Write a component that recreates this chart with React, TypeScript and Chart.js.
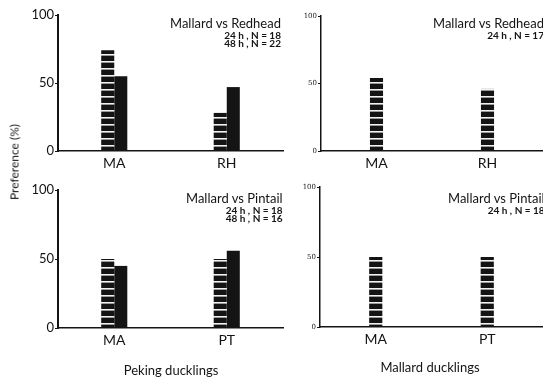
import React, { useEffect, useRef } from "react";
import { Chart, registerables } from "chart.js";

Chart.register(...registerables);

// ---- data ----
const redheadCategories = ["MA", "RH"];
const pintailCategories = ["MA", "PT"];
const yTicks = [0, 50, 100];

const pekingRedhead24h = [74, 28];
const pekingRedhead48h = [55, 47];
const mallardRedhead24h = [54, 46];
const pekingPintail24h = [50, 50];
const pekingPintail48h = [45, 56];
const mallardPintail24h = [50, 50];

const titleRedhead = "Mallard vs Redhead";
const titlePintail = "Mallard vs Pintail";
const pekingRedheadNotes = ["24 h , N = 18", "48 h , N = 22"];
const mallardRedheadNotes = ["24 h , N = 17"];
const pekingPintailNotes = ["24 h , N = 18", "48 h , N = 16"];
const mallardPintailNotes = ["24 h , N = 18"];

const yAxisTitle = "Preference (%)";
const pekingLabel = "Peking ducklings";
const mallardLabel = "Mallard ducklings";

const INK = "#141414";
const FONT = "Lato, 'DejaVu Sans', sans-serif";

function makeStripe(): CanvasPattern | string {
  const c = document.createElement("canvas");
  c.width = 4;
  c.height = 7;
  const g = c.getContext("2d");
  if (!g) return INK;
  g.fillStyle = INK;
  g.fillRect(0, 0, 4, 7);
  g.fillStyle = "#f2f2f2";
  g.fillRect(0, 5, 4, 1);
  g.fillStyle = "#9a9a9a";
  g.fillRect(0, 6, 4, 1);
  const p = g.createPattern(c, "repeat");
  return p || INK;
}

type PanelProps = {
  left: number;
  top: number;
  width: number;
  height: number;
  labels: string[];
  series: number[][];
  yWidth: number;
  xHeight: number;
  padTop: number;
  padRight: number;
  catPct: number;
  small: boolean;
};

function Panel(p: PanelProps) {
  const ref = useRef<HTMLCanvasElement | null>(null);
  useEffect(() => {
    if (!ref.current) return;
    const stripe = makeStripe();
    const chart = new Chart(ref.current, {
      type: "bar",
      data: {
        labels: p.labels,
        datasets: p.series.map((s, i) => ({
          data: s,
          backgroundColor: i === 0 ? (stripe as any) : INK,
          borderWidth: 0,
          categoryPercentage: p.catPct,
          barPercentage: 1,
        })),
      },
      options: {
        responsive: false,
        maintainAspectRatio: false,
        animation: false,
        layout: { padding: { top: p.padTop, right: p.padRight, left: 0, bottom: 0 } },
        plugins: { legend: { display: false }, tooltip: { enabled: false }, title: { display: false } },
        scales: {
          x: {
            grid: { display: false, drawTicks: false },
            border: { display: true, color: INK, width: 1.5 },
            ticks: { color: INK, font: { family: FONT, size: 14 }, padding: 4 },
            afterFit: (s: any) => {
              s.height = p.xHeight;
            },
          },
          y: {
            min: 0,
            max: 100,
            afterBuildTicks: (s: any) => {
              s.ticks = yTicks.map((v) => ({ value: v }));
            },
            grid: { drawOnChartArea: false, drawTicks: true, tickLength: 3, tickColor: INK, lineWidth: 1 },
            border: { display: true, color: INK, width: p.small ? 1.5 : 2 },
            ticks: {
              color: INK,
              font: { family: p.small ? "'DejaVu Serif', serif" : FONT, size: p.small ? 7 : 13 },
              padding: 1,
            },
            afterFit: (s: any) => {
              s.width = p.yWidth;
            },
          },
        },
      },
    });
    return () => chart.destroy();
  }, []);
  return (
    <canvas
      ref={ref}
      width={p.width}
      height={p.height}
      style={{ position: "absolute", left: p.left, top: p.top, width: p.width, height: p.height }}
    />
  );
}

function Note(props: { left: number; top: number; title: string; lines: string[] }) {
  return (
    <div
      style={{
        position: "absolute",
        left: props.left,
        top: props.top,
        textAlign: "right",
        whiteSpace: "nowrap",
        fontFamily: FONT,
        color: INK,
      }}
    >
      <div style={{ fontSize: 13, lineHeight: "15px" }}>{props.title}</div>
      {props.lines.map((l, i) => (
        <div key={i} style={{ fontSize: 10, lineHeight: "8px", fontWeight: 700 }}>
          {l}
        </div>
      ))}
    </div>
  );
}

function Caption(props: { x: number; y: number; text: string; rotate?: boolean; size: number }) {
  return (
    <div
      style={{
        position: "absolute",
        left: props.x,
        top: props.y,
        transform: `translate(-50%, -50%)${props.rotate ? " rotate(-90deg)" : ""}`,
        whiteSpace: "nowrap",
        fontFamily: FONT,
        fontSize: props.size,
        color: INK,
      }}
    >
      {props.text}
    </div>
  );
}

export default function App() {
  return (
    <div
      style={{
        position: "absolute",
        left: 0,
        top: 0,
        width: 543,
        height: 381,
        overflow: "hidden",
        background: "#ffffff",
      }}
    >
      <Panel
        left={0}
        top={0}
        width={286}
        height={178}
        labels={redheadCategories}
        series={[pekingRedhead24h, pekingRedhead48h]}
        yWidth={58}
        xHeight={27}
        padTop={15}
        padRight={3}
        catPct={0.232}
        small={false}
      />
      <Panel
        left={286}
        top={0}
        width={257}
        height={178}
        labels={redheadCategories}
        series={[mallardRedhead24h]}
        yWidth={35}
        xHeight={27}
        padTop={16}
        padRight={0}
        catPct={0.118}
        small={true}
      />
      <Panel
        left={0}
        top={178}
        width={286}
        height={203}
        labels={pintailCategories}
        series={[pekingPintail24h, pekingPintail48h]}
        yWidth={58}
        xHeight={53}
        padTop={12}
        padRight={3}
        catPct={0.232}
        small={false}
      />
      <Panel
        left={286}
        top={178}
        width={257}
        height={203}
        labels={pintailCategories}
        series={[mallardPintail24h]}
        yWidth={34}
        xHeight={54}
        padTop={9}
        padRight={0}
        catPct={0.118}
        small={true}
      />
      <Note left={170} top={16} title={titleRedhead} lines={pekingRedheadNotes} />
      <Note left={433} top={16} title={titleRedhead} lines={mallardRedheadNotes} />
      <Note left={186} top={191} title={titlePintail} lines={pekingPintailNotes} />
      <Note left={448} top={191} title={titlePintail} lines={mallardPintailNotes} />
      <Caption x={14} y={162} text={yAxisTitle} rotate size={12} />
      <Caption x={171} y={370} text={pekingLabel} size={13} />
      <Caption x={430} y={367} text={mallardLabel} size={13} />
    </div>
  );
}
